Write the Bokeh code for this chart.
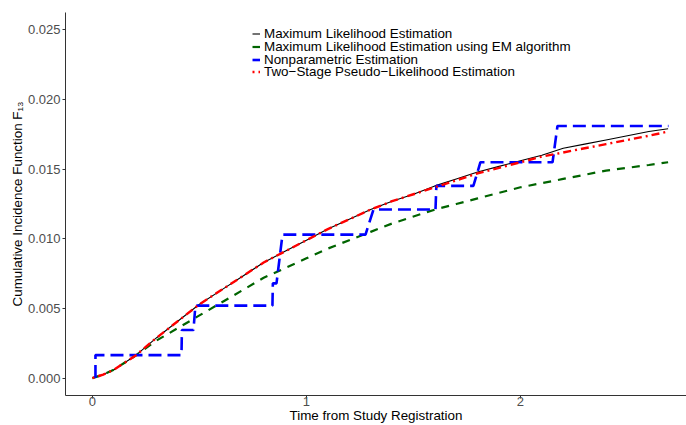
from bokeh.plotting import figure
from bokeh.models import Range1d, Legend, LegendItem, FixedTicker
from bokeh.embed import file_html
from bokeh.resources import INLINE

# ---- data ----
time_grid = [0.0, 0.05, 0.1, 0.15, 0.2, 0.3, 0.4, 0.5, 0.6, 0.7, 0.8, 0.9, 1.0, 1.1, 1.2, 1.3,
             1.4, 1.5, 1.6, 1.7, 1.8, 1.9, 2.0, 2.1, 2.2, 2.3, 2.4, 2.5, 2.6, 2.69]
mle = [0.0, 0.00025, 0.0006, 0.0011, 0.0016, 0.0029, 0.0041, 0.0053, 0.0063, 0.0073, 0.0083,
       0.0091, 0.0099, 0.0107, 0.0114, 0.0121, 0.0127, 0.0132, 0.0138, 0.0143, 0.0148, 0.0152,
       0.0156, 0.0160, 0.0165, 0.0168, 0.0171, 0.0174, 0.0177, 0.0179]
mle_em = [0.0, 0.00025, 0.0006, 0.0011, 0.0016, 0.0027, 0.0036, 0.0045, 0.0054, 0.0063, 0.0072,
          0.0079, 0.0086, 0.0093, 0.0099, 0.0105, 0.0111, 0.0116, 0.0121, 0.0125, 0.0129, 0.0133,
          0.0137, 0.0140, 0.0143, 0.0146, 0.0149, 0.0151, 0.0153, 0.0155]
two_stage = [0.0, 0.00025, 0.0006, 0.0011, 0.0016, 0.0029, 0.0041, 0.0053, 0.0063, 0.0073, 0.0083,
             0.0091, 0.0099, 0.0107, 0.0114, 0.0121, 0.0127, 0.0132, 0.0137, 0.0142, 0.0147, 0.0151,
             0.0155, 0.0159, 0.0162, 0.0165, 0.0168, 0.0171, 0.0174, 0.0177]
np_time = [0.014, 0.014, 0.416, 0.418, 0.472, 0.481, 0.841, 0.843, 0.860, 0.888,
           1.276, 1.313, 1.603, 1.607, 1.780, 1.813, 2.150, 2.173, 2.692]
np_cif = [0.0, 0.00165, 0.00165, 0.00345, 0.00345, 0.0052, 0.0052, 0.0068, 0.0068, 0.0103,
          0.0103, 0.0121, 0.0121, 0.0138, 0.0138, 0.0155, 0.0155, 0.0181, 0.0181]

y_ticks = [0.0, 0.005, 0.010, 0.015, 0.020, 0.025]
y_tick_labels = ["0.000", "0.005", "0.010", "0.015", "0.020", "0.025"]
x_ticks = [0, 1, 2]
legend_labels = ["Maximum Likelihood Estimation",
                 "Maximum Likelihood Estimation using EM algorithm",
                 "Nonparametric Estimation",
                 "Two\u2212Stage Pseudo\u2212Likelihood Estimation"]
x_title = "Time from Study Registration"
y_title = "Cumulative Incidence Function F\u2081\u2083"

FONT = "Liberation Sans"
FS = "13.4px"

p = figure(width=686, height=425, output_backend="svg", toolbar_location=None,
           x_range=Range1d(-0.126, 2.776), y_range=Range1d(-0.00125, 0.02625),
           min_border_left=65, min_border_top=12, min_border_right=0, min_border_bottom=30)
p.outline_line_color = None
p.xgrid.visible = False
p.ygrid.visible = False
p.background_fill_color = "white"

r_mle = p.line(time_grid, mle, line_color="black", line_width=1.1)
r_em = p.line(time_grid, mle_em, line_color="#006400", line_width=2.2, line_dash="8 7")
r_np = p.line(np_time, np_cif, line_color="#0000FF", line_width=2.6, line_dash="13 6")
r_ts = p.line(time_grid, two_stage, line_color="#FF0000", line_width=2.4, line_dash="2 4 8 4")

for ax in (p.xaxis[0], p.yaxis[0]):
    ax.axis_line_color = "#333333"
    ax.axis_line_width = 1
    ax.major_tick_line_color = "#333333"
    ax.major_tick_out = 3
    ax.major_tick_in = 0
    ax.minor_tick_line_color = None
    ax.major_label_text_font = FONT
    ax.major_label_text_font_size = "13px"
    ax.major_label_text_color = "#4D4D4D"
    ax.axis_label_text_font = FONT
    ax.axis_label_text_font_size = FS
    ax.axis_label_text_font_style = "normal"
    ax.axis_label_text_color = "black"

p.yaxis.ticker = FixedTicker(ticks=y_ticks)
p.yaxis.major_label_overrides = {t: l for t, l in zip(y_ticks, y_tick_labels)}
p.yaxis.major_label_standoff = 2
p.yaxis.axis_label = y_title
p.yaxis.axis_label_standoff = 0

p.xaxis.ticker = FixedTicker(ticks=x_ticks)
p.xaxis.major_label_standoff = -2
p.xaxis.axis_label = x_title
p.xaxis.axis_label_standoff = -1

# one legend block per entry so that the row pitch matches the reference
renderers = [r_mle, r_em, r_np, r_ts]
legend_offsets = [354, 341.3, 328.5, 315.7]
for lab, rend, off in zip(legend_labels, renderers, legend_offsets):
    lg = Legend(items=[LegendItem(label=lab, renderers=[rend])],
                location=(187, off), border_line_color=None, background_fill_alpha=0,
                padding=0, spacing=0, margin=0, glyph_width=8, glyph_height=13,
                label_height=13, label_standoff=4, label_text_font=FONT,
                label_text_font_size=FS, label_text_color="black")
    p.add_layout(lg)

open("out.html", "w").write(file_html(p, INLINE))
